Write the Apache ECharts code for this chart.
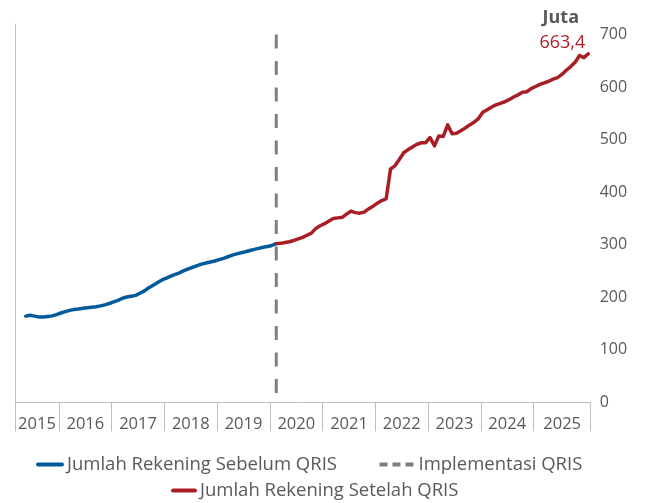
<!DOCTYPE html>
<html><head><meta charset="utf-8">
<script src="https://cdn.jsdelivr.net/npm/echarts@6/dist/echarts.min.js"></script>
<style>html,body{margin:0;padding:0;background:#fff}#c{width:646px;height:503px}</style>
</head><body><div id="c"></div>
<script>
// ---- data ----
const years = ['2015','2016','2017','2018','2019','2020','2021','2022','2023','2024','2025'];
// monthly values (juta rekening), Apr 2015 .. Jan 2020
const blueValues = [164,165.5,164,162.5,162.5,163.5,164.5,167,170,172.5,175,176.5,177.5,179,180,181,182,183.5,185.5,188,191,194,198,200.5,202,203.5,207.5,212,218,223,228,233,236.5,240,243.5,246.5,250.5,254,257,260,263,265,267,269,271.5,274,277,280,282.5,284.5,286.5,289,291,293,295,296.5,298.5,302];
// monthly values, Jan 2020 .. Dec 2025
const redValues = [302,302.5,304,305.5,308,311,314,318,322,331,336,340,345,350,351,352,358,364,361,360,362,368,373,379,384,387,444,450,462,475,481,486,491,494,494,504,488,507,506,528,511,512,517,522,528,533,540,552,557,562,566,569,572,576,581,585,590,591,597,601,605,608,611,615,618,624,632,639,647,660,656,663.4];
const implementasiRange = [700, 0];
const seriesNames = ['Jumlah Rekening Sebelum QRIS','Implementasi QRIS','Jumlah Rekening Setelah QRIS'];
const unitLabel = 'Juta';

// ---- axis layout (month slots, first slot = Mar 2015) ----
const monthsIn2015 = 10, lastBandMonths = 13, slotOffset = 1.45;
const blueStart = 1;               // Apr 2015
const redStart = blueStart + blueValues.length - 1; // Jan 2020
const bounds = [0];
for (let i = 1; i < years.length; i++) bounds.push(monthsIn2015 + 12 * (i - 1));
bounds.push(bounds[bounds.length - 1] + lastBandMonths);
const xMax = bounds[bounds.length - 1];
const centers = years.map((y, i) => (bounds[i] + bounds[i + 1]) / 2);
const xOf = k => k + slotOffset;

const blueData = blueValues.map((v, i) => [xOf(blueStart + i), v]);
const redData = redValues.map((v, i) => [xOf(redStart + i), v]);
const lastPoint = redData[redData.length - 1];
const qrisX = xOf(redStart);
const dashData = implementasiRange.map(v => [qrisX, v]);

const FONT = 'Open Sans';
const GRAY = '#595959';
const BLUE = '#005a9c', RED = '#a81e24', DGRAY = '#7f7f7f';

const chart = echarts.init(document.getElementById('c'), null, {renderer: 'canvas'});
const legendBase = {padding: 0, itemHeight: 14, itemStyle: {opacity: 0}, lineStyle: {width: 4},
  textStyle: {fontSize: 18.5, fontFamily: FONT, color: GRAY}};
chart.setOption({
  animation: false,
  backgroundColor: '#fff',
  title: {text: unitLabel, right: 67, top: 9, padding: 0,
    textStyle: {fontWeight: 'bold', fontSize: 18, fontFamily: FONT, color: GRAY}},
  grid: {left: 15, right: 55.3, top: 24, bottom: 100.7, containLabel: false, outerBoundsMode: 'none'},
  xAxis: {
    type: 'value', min: 0, max: xMax,
    axisLine: {show: true, lineStyle: {color: '#bfbfbf', width: 1}},
    axisTick: {show: true, customValues: bounds, length: 29, lineStyle: {color: '#bfbfbf', width: 1}},
    axisLabel: {show: true, customValues: centers, margin: 13, fontSize: 16.5, fontFamily: FONT, color: GRAY,
      formatter: v => { let best = 0; centers.forEach((c, i) => { if (Math.abs(c - v) < Math.abs(centers[best] - v)) best = i; }); return years[best]; }},
    splitLine: {show: false}
  },
  yAxis: {
    type: 'value', position: 'right', min: 0, max: 720, interval: 100,
    axisLine: {show: true, lineStyle: {color: '#bfbfbf', width: 1}},
    axisTick: {show: false},
    splitLine: {show: false},
    axisLabel: {showMaxLabel: false, margin: 9, fontSize: 16, fontFamily: FONT, color: GRAY}
  },
  legend: [
    Object.assign({}, legendBase, {data: [seriesNames[0]], left: 36, top: 455, itemWidth: 24}),
    Object.assign({}, legendBase, {data: [{name: seriesNames[1], lineStyle: {type: [8, 5], width: 4}}], left: 377.5, top: 455, itemWidth: 34}),
    Object.assign({}, legendBase, {data: [seriesNames[2]], left: 171, top: 481, itemWidth: 22})
  ],
  series: [
    {name: seriesNames[1], type: 'line', data: dashData, symbol: 'none', silent: true, z: 1,
      color: DGRAY, lineStyle: {color: DGRAY, width: 3, type: [14, 12.5]}},
    {name: seriesNames[0], type: 'line', data: blueData, symbol: 'none', z: 3,
      color: BLUE, lineStyle: {color: BLUE, width: 3.5, cap: 'round', join: 'round'}},
    {name: seriesNames[2], type: 'line', data: redData, symbol: 'none', z: 3,
      color: RED, lineStyle: {color: RED, width: 3.5, cap: 'round', join: 'round'},
      markPoint: {symbol: 'circle', symbolSize: 2, silent: true, itemStyle: {color: 'rgba(0,0,0,0)'},
        data: [{coord: lastPoint}],
        label: {show: true, position: 'top', distance: 1, align: 'right', offset: [-3, 0],
          formatter: () => lastPoint[1].toFixed(1).replace('.', ','),
          color: '#b01f24', fontSize: 18, fontFamily: FONT}}}
  ]
});
</script>
</body></html>
